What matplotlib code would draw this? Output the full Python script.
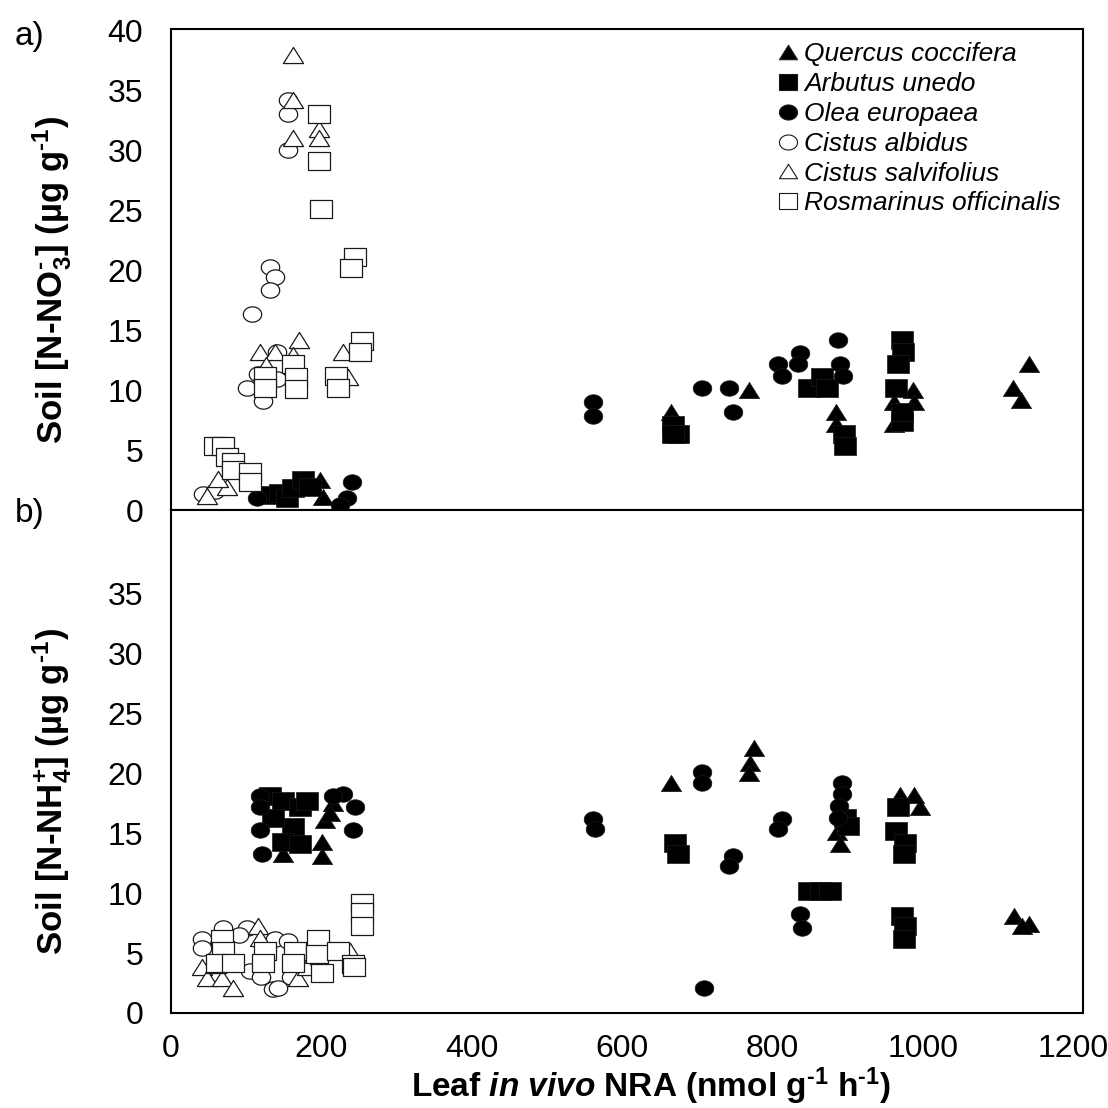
import numpy as np
import matplotlib
matplotlib.use("Agg")
import matplotlib.pyplot as plt
from matplotlib.path import Path
from matplotlib.lines import Line2D

plt.rcParams['font.family'] = 'Liberation Sans'
plt.rcParams['mathtext.fontset'] = 'custom'
plt.rcParams['mathtext.rm'] = 'Liberation Sans:bold'
plt.rcParams['mathtext.it'] = 'Liberation Sans:italic'
plt.rcParams['mathtext.bf'] = 'Liberation Sans:bold'
plt.rcParams['mathtext.bfit'] = 'Liberation Sans:italic:bold'

# ---- data: panel a) soil nitrate vs leaf NRA ----
qc_x_no3 = [198, 202, 665, 666, 769, 884, 884, 962, 962, 987, 988, 1120, 1131, 1141]
qc_y_no3 = [2.5, 1.1, 8.2, 7.3, 10.0, 8.2, 7.2, 9.0, 7.2, 10.0, 9.0, 10.2, 9.2, 12.2]

au_x_no3 = [128, 145, 154, 162, 176, 185, 668, 674, 668, 849, 866, 873, 895, 896,
            972, 974, 967, 964, 972, 972]
au_y_no3 = [1.25, 1.4, 1.0, 1.8, 2.5, 1.9, 7.1, 6.3, 6.3, 10.2, 11.1, 10.2, 6.3, 5.3,
            14.2, 13.2, 12.2, 10.2, 7.3, 8.2]

oe_x_no3 = [114, 234, 241, 225, 561, 561, 706, 742, 747, 807, 813, 836, 834, 887, 890, 894]
oe_y_no3 = [1.0, 1.0, 2.3, 0.4, 9.0, 7.8, 10.2, 10.2, 8.2, 12.2, 11.2, 13.1, 12.2, 14.2, 12.2, 11.2]

ca_x_no3 = [156, 156, 156, 132, 138, 132, 108, 141, 116, 101, 122, 122, 141, 43, 58]
ca_y_no3 = [34.2, 33.0, 30.0, 20.3, 19.4, 18.3, 16.3, 13.2, 11.3, 10.2, 9.1, 10.9, 10.9, 1.3, 1.6]

cs_x_no3 = [162, 162, 162, 197, 197, 118, 138, 170, 229, 236, 162, 127, 48, 74, 63]
cs_y_no3 = [37.9, 34.2, 31.0, 31.8, 31.0, 13.2, 13.2, 14.2, 13.2, 11.1, 12.9, 12.1, 1.2, 1.9, 2.6]

ro_x_no3 = [197, 197, 199, 245, 239, 254, 251, 162, 166, 166, 125, 125, 219, 222,
            58, 69, 74, 82, 82, 105, 105]
ro_y_no3 = [33.0, 29.1, 25.1, 21.1, 20.2, 14.1, 13.2, 12.2, 11.1, 10.1, 11.2, 10.2, 11.2, 10.2,
            5.3, 5.3, 4.4, 4.0, 3.3, 3.2, 2.3]

# ---- data: panel b) soil ammonium vs leaf NRA ----
qc_x_nh4 = [149, 201, 201, 205, 216, 211, 665, 775, 770, 769, 886, 890, 970, 988, 996, 1121, 1141, 1132]
qc_y_nh4 = [13.3, 13.1, 14.3, 16.1, 17.5, 16.7, 19.2, 22.1, 20.9, 20.0, 15.1, 14.1, 18.2, 18.2, 17.2,
            8.1, 7.4, 7.3]

au_x_nh4 = [132, 149, 172, 181, 162, 149, 172, 136, 670, 674, 848, 864, 877, 896, 901,
            967, 964, 976, 975, 972, 976, 975]
au_y_nh4 = [18.1, 17.7, 17.2, 17.7, 15.5, 14.3, 14.1, 16.3, 14.2, 13.3, 10.2, 10.2, 10.2, 16.3, 15.6,
            17.2, 15.2, 14.2, 13.3, 8.1, 7.3, 6.2]

oe_x_nh4 = [118, 118, 118, 121, 229, 245, 242, 216, 561, 564, 706, 706, 747, 742, 813, 807,
            892, 892, 889, 887, 836, 839, 709]
oe_y_nh4 = [18.1, 17.2, 15.3, 13.3, 18.3, 17.2, 15.3, 18.1, 16.2, 15.4, 20.1, 19.2, 13.1, 12.3, 16.2, 15.4,
            19.2, 18.3, 17.3, 16.3, 8.3, 7.1, 2.1]

ca_x_nh4 = [41, 41, 69, 101, 138, 136, 142, 105, 90, 155, 120, 160]
ca_y_nh4 = [6.2, 5.4, 7.1, 7.1, 6.2, 2.0, 2.1, 3.5, 6.5, 6.0, 3.0, 3.0]

cs_x_nh4 = [116, 118, 41, 48, 68, 82, 169, 198, 181, 238, 60]
cs_y_nh4 = [7.3, 6.3, 3.8, 2.9, 2.9, 2.1, 2.9, 4.2, 3.8, 5.2, 4.0]

ro_x_nh4 = [254, 254, 254, 68, 69, 61, 82, 125, 122, 165, 162, 196, 194, 222, 201, 242, 244]
ro_y_nh4 = [9.2, 8.4, 7.3, 6.2, 5.2, 4.2, 4.2, 5.2, 4.2, 5.2, 4.2, 6.2, 4.9, 5.2, 3.3, 4.1, 3.8]

species = ['Quercus coccifera', 'Arbutus unedo', 'Olea europaea',
           'Cistus albidus', 'Cistus salvifolius', 'Rosmarinus officinalis']
x_ticks = [0, 200, 400, 600, 800, 1000, 1200]

# marker shapes, a bit wider than tall like the original
t = np.linspace(0, 2 * np.pi, 61)
circ = Path(np.column_stack([1.2 * np.cos(t), np.sin(t)]), closed=True)
sq = Path([(-1.17, -1), (1.17, -1), (1.17, 1), (-1.17, 1), (-1.17, -1)], closed=True)
tri = Path([(-1, -0.8), (1, -0.8), (0, 0.8), (-1, -0.8)], closed=True)

styles = [(tri, 'black', 215), (sq, 'black', 235), (circ, 'black', 180),
          (circ, 'white', 175), (tri, 'white', 210), (sq, 'white', 235)]

no3 = [(qc_x_no3, qc_y_no3), (au_x_no3, au_y_no3), (oe_x_no3, oe_y_no3),
       (ca_x_no3, ca_y_no3), (cs_x_no3, cs_y_no3), (ro_x_no3, ro_y_no3)]
nh4 = [(qc_x_nh4, qc_y_nh4), (au_x_nh4, au_y_nh4), (oe_x_nh4, oe_y_nh4),
       (ca_x_nh4, ca_y_nh4), (cs_x_nh4, cs_y_nh4), (ro_x_nh4, ro_y_nh4)]

W = 1108.0
fig = plt.figure(figsize=(11.08, 11.08), dpi=100)
ax1 = fig.add_axes([171 / W, (W - 510) / W, 912 / W, 481 / W])
ax2 = fig.add_axes([171 / W, (W - 1013) / W, 912 / W, 503 / W])

for ax, data in [(ax1, no3), (ax2, nh4)]:
    for (xs, ys), (m, fc, s) in zip(data, styles):
        lw = 0.5 if fc == 'black' else 0.9
        ax.scatter(xs, ys, marker=m, s=s, facecolors=fc, edgecolors='#1a1a1a',
                   linewidths=lw, zorder=3)
    ax.set_xlim(0, 1213)
    ax.set_xticks(x_ticks)
    ax.tick_params(length=0, labelsize=23)
    ax.tick_params(axis='y', pad=20)
    ax.tick_params(axis='x', pad=15)
    for sp in ax.spines.values():
        sp.set_linewidth(1.5)

ax1.set_ylim(0, 40.1)
ax1.set_yticks(range(0, 41, 5))
ax1.tick_params(axis='x', labelbottom=False)

ax2.set_ylim(0, 42)
ax2.set_yticks(range(0, 36, 5))

ax1.set_ylabel(r'Soil [N-NO$_{\mathbf{3}}^{\text{-}}$] (µg g$^{\text{-1}}$)',
               fontsize=25, fontweight='bold', va='center')
ax1.yaxis.set_label_coords(-0.1305, 0.478)
ax2.set_ylabel(r'Soil [N-NH$_{\mathbf{4}}^{\mathbf{+}}$] (µg g$^{\text{-1}}$)',
               fontsize=25, fontweight='bold', va='center')
ax2.yaxis.set_label_coords(-0.1305, 0.441)
ax2.set_xlabel(r'Leaf $\mathbfit{in\ vivo}$ NRA (nmol g$^{\text{-1}}$ h$^{\text{-1}}$)',
               fontsize=24, fontweight='bold')
ax2.xaxis.set_label_coords(0.526, -0.104)

fig.text(30 / W, 1 - 36 / W, 'a)', fontsize=24, ha='center', va='center')
fig.text(30 / W, 1 - 514 / W, 'b)', fontsize=24, ha='center', va='center')

handles = [Line2D([], [], ls='none', marker=m, ms=13, mfc=fc, mec='#1a1a1a', mew=0.8)
           for m, fc, s in styles]
ax1.legend(handles, species, loc='upper left', bbox_to_anchor=(0.665, 0.972),
           frameon=False, prop=dict(style='italic', size=19), handlelength=0.8,
           handletextpad=0.2, labelspacing=0.22, borderpad=0, borderaxespad=0)

fig.savefig('out.png', dpi=100)
